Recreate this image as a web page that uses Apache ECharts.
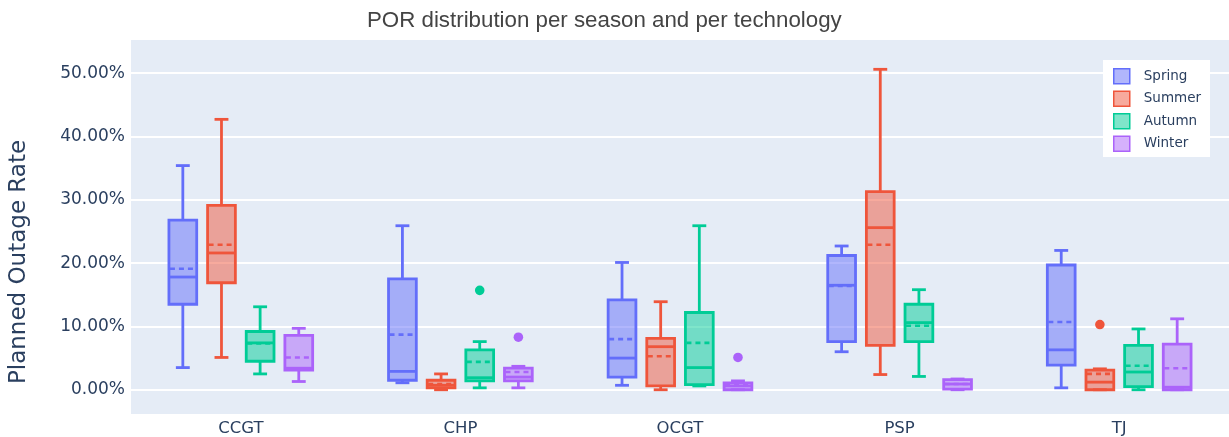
<!DOCTYPE html>
<html>
<head>
<meta charset="utf-8">
<title>POR distribution</title>
<script src="https://cdn.jsdelivr.net/npm/echarts@6/dist/echarts.min.js"></script>
<style>
  html, body { margin: 0; padding: 0; background: #fff; }
  #chart { width: 1229px; height: 437px; }
</style>
</head>
<body>
<div id="chart"></div>
<script>
// technologies on the x axis
const technologies = ["CCGT", "CHP", "OCGT", "PSP", "TJ"];
const seasons = ["Spring", "Summer", "Autumn", "Winter"];
const colors = ["#636efa", "#EF553B", "#00cc96", "#ab63fa"];

// per technology: [low whisker, Q1, median, Q3, high whisker, mean]  (percent)
const spring = [
  [3.5, 13.5, 17.8, 26.8, 35.4, 19.1],
  [1.1, 1.5, 2.9, 17.5, 25.9, 8.7],
  [0.7, 2.0, 5.0, 14.2, 20.1, 8.0],
  [6.0, 7.6, 16.5, 21.2, 22.7, 16.4],
  [0.3, 3.9, 6.3, 19.7, 22.0, 10.7]
];
const summer = [
  [5.1, 16.9, 21.6, 29.1, 42.7, 22.9],
  [0.0, 0.3, 0.7, 1.5, 2.5, 0.9],
  [0.0, 0.6, 6.8, 8.1, 13.9, 5.3],
  [2.4, 7.0, 25.6, 31.3, 50.6, 22.9],
  [0.0, 0.0, 1.2, 3.1, 3.3, 2.5]
];
const autumn = [
  [2.5, 4.5, 7.4, 9.2, 13.1, 7.3],
  [0.3, 1.4, 1.9, 6.3, 7.6, 4.4],
  [0.6, 0.8, 3.5, 12.2, 25.9, 7.4],
  [2.1, 7.6, 10.6, 13.5, 15.8, 10.1],
  [0.0, 0.5, 2.8, 7.0, 9.6, 3.8]
];
const winter = [
  [1.3, 3.1, 3.4, 8.6, 9.7, 5.1],
  [0.3, 1.4, 2.0, 3.4, 3.7, 2.8],
  [0.0, 0.0, 0.6, 1.1, 1.4, 0.7],
  [0.0, 0.1, 0.9, 1.6, 1.7, 0.9],
  [0.0, 0.0, 0.4, 7.2, 11.2, 3.4]
];

// outliers: [technology index, value]
const springOut = [];
const summerOut = [[4, 10.3]];
const autumnOut = [[1, 15.7]];
const winterOut = [[1, 8.3], [2, 5.1]];

const yTicks = [0, 10, 20, 30, 40, 50];

const boxStats = [spring, summer, autumn, winter];
const outliers = [springOut, summerOut, autumnOut, winterOut];

function fade(hex, a) {
  const n = parseInt(hex.slice(1), 16);
  return "rgba(" + (n >> 16) + "," + ((n >> 8) & 255) + "," + (n & 255) + "," + a + ")";
}

function groupOffset(idx, band) {
  return (idx - 1.5) * band * 0.176;
}

function renderBox(params, api) {
  const idx = params.seriesIndex;
  const color = colors[idx];
  const cat = api.value(0);
  const band = api.size([1, 0])[0];
  const cx = api.coord([cat, 0])[0] + groupOffset(idx, band);
  const w = band * 0.1265;
  const y = (k) => api.coord([cat, api.value(k)])[1];
  const low = y(1), q1 = y(2), med = y(3), q3 = y(4), high = y(5), mean = y(6);
  const stroke = { stroke: color, lineWidth: 2.8, fill: null };
  return {
    type: "group",
    children: [
      { type: "line", shape: { x1: cx, y1: high, x2: cx, y2: q3 }, style: stroke },
      { type: "line", shape: { x1: cx, y1: q1, x2: cx, y2: low }, style: stroke },
      { type: "line", shape: { x1: cx - w / 4, y1: high, x2: cx + w / 4, y2: high }, style: stroke },
      { type: "line", shape: { x1: cx - w / 4, y1: low, x2: cx + w / 4, y2: low }, style: stroke },
      { type: "rect", shape: { x: cx - w / 2, y: q3, width: w, height: Math.max(q1 - q3, 0.5) },
        style: { fill: fade(color, 0.5), stroke: color, lineWidth: 2.8 } },
      { type: "line", shape: { x1: cx - w / 2, y1: med, x2: cx + w / 2, y2: med }, style: stroke },
      { type: "line", shape: { x1: cx - w / 2 + 1, y1: mean, x2: cx + w / 2, y2: mean },
        style: { stroke: color, lineWidth: 2.6, fill: null, lineDash: [5, 4] } }
    ]
  };
}

function renderOutlier(params, api) {
  const idx = params.seriesIndex - 4;
  const cat = api.value(0);
  const band = api.size([1, 0])[0];
  const p = api.coord([cat, api.value(1)]);
  return {
    type: "circle",
    shape: { cx: p[0] + groupOffset(idx, band), cy: p[1], r: 4.8 },
    style: { fill: colors[idx] }
  };
}

const series = [];
seasons.forEach((s, i) => {
  series.push({
    name: s,
    type: "custom",
    renderItem: renderBox,
    encode: { x: 0, y: [1, 2, 3, 4, 5, 6] },
    data: boxStats[i].map((r, t) => [t].concat(r))
  });
});
seasons.forEach((s, i) => {
  series.push({
    name: s,
    type: "custom",
    renderItem: renderOutlier,
    encode: { x: 0, y: 1 },
    data: outliers[i]
  });
});

const chart = echarts.init(document.getElementById("chart"), null, { renderer: "canvas" });
chart.setOption({
  animation: false,
  backgroundColor: "#fff",
  textStyle: { fontFamily: "DejaVu Sans" },
  title: {
    text: "POR distribution per season and per technology",
    left: 362,
    top: 5,
    textStyle: { fontFamily: "Liberation Sans", fontSize: 22.3, fontWeight: "normal", color: "#444" }
  },
  legend: {
    orient: "vertical",
    left: 1103,
    top: 60,
    padding: [8, 9, 5, 10],
    itemWidth: 16,
    itemHeight: 15,
    itemGap: 6,
    backgroundColor: "#fff",
    textStyle: { fontFamily: "DejaVu Sans", fontSize: 13.5, color: "#2a3f5f", padding: [0, 0, 0, 9] },
    data: seasons.map((s, i) => ({
      name: s,
      icon: "rect",
      itemStyle: { color: fade(colors[i], 0.5), borderColor: colors[i], borderWidth: 1.5 }
    }))
  },
  grid: {
    left: 128.5,
    top: 40,
    width: 1107.5,
    height: 375,
    show: true,
    backgroundColor: "#E5ECF6",
    borderWidth: 0
  },
  xAxis: {
    type: "category",
    data: technologies,
    axisLine: { show: false },
    axisTick: { show: false },
    axisLabel: { fontSize: 16.5, color: "#2a3f5f", margin: 6 }
  },
  yAxis: {
    type: "value",
    min: -3.83,
    max: 55.23,
    splitNumber: yTicks.length - 1,
    name: "Planned Outage Rate",
    nameLocation: "middle",
    nameGap: 100,
    nameTextStyle: { fontSize: 23, color: "#2a3f5f", padding: [0, 70, 0, 0] },
    axisLine: { show: false },
    axisTick: { show: false },
    splitLine: { show: true, showMinLine: false, showMaxLine: false, lineStyle: { color: "#fff", width: 2 } },
    axisLabel: {
      fontSize: 17,
      color: "#2a3f5f",
      margin: 6,
      showMinLabel: false,
      showMaxLabel: false,
      formatter: (v) => (yTicks.indexOf(Math.round(v * 100) / 100) >= 0 ? v.toFixed(2) + "%" : "")
    }
  },
  series: series
});
</script>
</body>
</html>
